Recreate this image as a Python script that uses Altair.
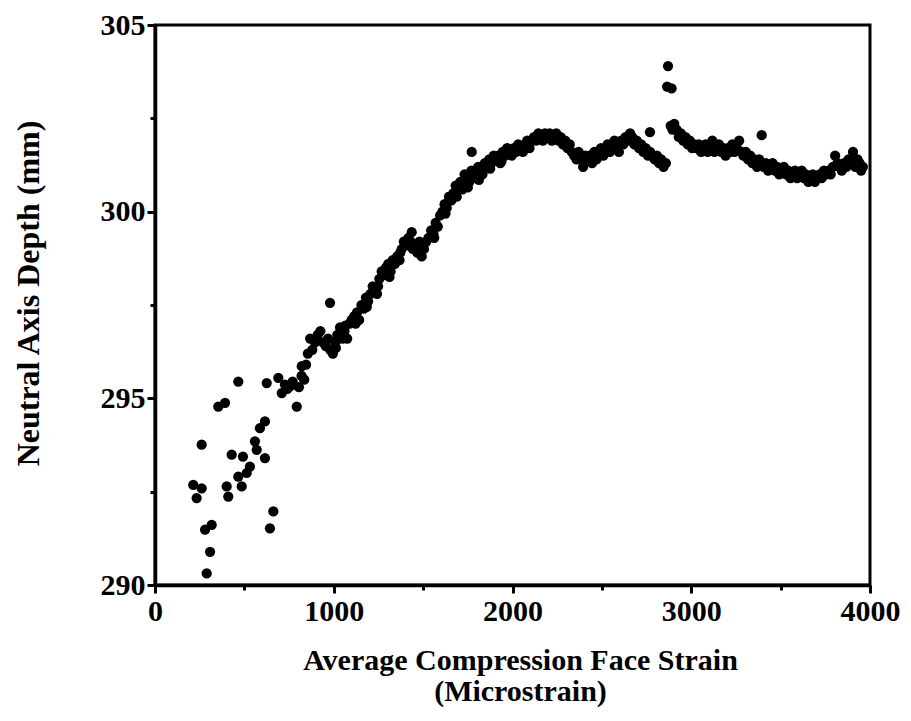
import altair as alt
import pandas as pd

# Sparse early readings
early_x = [214, 233, 261, 261, 280, 289, 308, 317, 354, 392, 401, 410, 429, 466, 466, 485, 492,
           513, 531, 559, 569, 587, 615, 615, 625, 643, 662, 690, 709, 727, 740, 755, 770, 793, 821]
early_y = [292.68, 292.33, 292.59, 293.76, 291.48, 290.31, 290.89, 291.61, 294.78, 294.88, 292.64,
           292.37, 293.49, 295.45, 292.90, 292.64, 293.44, 293.00, 293.17, 293.85, 293.62, 294.20,
           294.38, 293.40, 295.41, 291.52, 291.97, 295.55, 295.14, 295.37, 295.25, 295.32, 295.45,
           294.78, 295.86]

# Rising band
rise_x = [805, 820, 835, 845, 855, 868, 880, 895, 910, 925, 940, 955, 968, 980, 995, 1008, 1020,
          1035, 1048, 1060, 1075, 1088, 1100, 1115, 1130, 1142, 1155, 1168, 1180, 1192, 1205, 1218,
          1230, 1242, 1255, 1268, 1280, 1292, 1305, 1318, 1330, 1342, 1355, 1368, 1380, 1392, 1405,
          1418, 1430, 1442, 1455, 1468, 1480, 1492, 1505, 1518, 1530, 1545, 1558, 1570, 1582, 1595,
          1608, 1620, 1632, 1645, 1658, 1670, 1682, 1695, 1708, 1720, 1732, 1745, 1758, 1770, 1782,
          1795, 1808, 1820, 1832, 1845, 1858, 1870, 1882, 1895, 1908, 1920, 1932, 1945, 1958, 1970,
          1982, 1995]
rise_y = [295.3, 295.6, 295.5, 295.9, 296.2, 296.6, 296.3, 296.5, 296.7, 296.8, 296.5, 296.4, 296.6,
          296.3, 296.2, 296.5, 296.7, 296.9, 296.6, 296.8, 296.6, 297.0, 297.1, 297.2, 297.3, 297.1,
          297.5, 297.4, 297.7, 297.6, 297.8, 298.0, 297.9, 297.8, 298.2, 298.4, 298.3, 298.5, 298.6,
          298.4, 298.7, 298.6, 298.8, 298.7, 299.0, 299.2, 299.1, 299.3, 299.2, 299.0, 299.1, 298.9,
          299.2, 298.8, 299.0, 299.2, 299.3, 299.5, 299.4, 299.7, 299.6, 299.9, 300.0, 300.2, 300.1,
          300.4, 300.3, 300.5, 300.7, 300.6, 300.8, 300.6, 301.0, 300.9, 300.8, 301.1, 301.0, 300.9,
          301.2, 301.1, 301.0, 301.3, 301.2, 301.4, 301.3, 301.5, 301.4, 301.5, 301.3, 301.6, 301.5,
          301.7, 301.6, 301.5]

# Extra readings thickening the rising band
rise2_x = [1012, 1065, 1122, 1185, 1248, 1312, 1372, 1436, 1500, 1562, 1625, 1688, 1750, 1812,
           1875, 1938]
rise2_y = [296.35, 296.95, 297.0, 297.45, 298.0, 298.25, 298.9, 299.45, 299.05, 299.3, 299.95,
           300.4, 300.65, 300.85, 301.15, 301.35]

# First plateau
plateau_x = [2008, 2020, 2032, 2045, 2058, 2070, 2082, 2095, 2108, 2120, 2132, 2145, 2158, 2170,
             2182, 2195, 2208, 2220, 2232, 2245, 2258, 2270, 2282, 2295, 2308, 2320, 2332, 2345,
             2358, 2370, 2382, 2395, 2408, 2420, 2432, 2445, 2458, 2470, 2482, 2495, 2508, 2520,
             2532, 2545, 2558, 2570, 2582, 2595, 2608, 2620, 2632, 2645, 2658, 2670, 2682, 2695,
             2708, 2720, 2732, 2745, 2758, 2770, 2782, 2795, 2808, 2820, 2832, 2845, 2858]
plateau_y = [301.7, 301.6, 301.8, 301.7, 301.6, 301.8, 301.9, 301.7, 301.9, 302.0, 301.9, 302.1,
             302.0, 301.9, 302.1, 302.0, 302.1, 301.9, 302.0, 302.1, 301.9, 302.0, 301.8, 301.9,
             301.7, 301.8, 301.6, 301.5, 301.4, 301.6, 301.4, 301.2, 301.5, 301.4, 301.5, 301.3,
             301.6, 301.4, 301.5, 301.7, 301.5, 301.6, 301.8, 301.6, 301.7, 301.9, 301.8, 301.6,
             301.9, 301.8, 302.0, 301.9, 302.1, 302.0, 301.8, 301.9, 301.7, 301.8, 301.6, 301.7,
             301.5, 301.6, 301.5, 301.4, 301.5, 301.3, 301.4, 301.2, 301.3]

# After the jump
tail_x = [2885, 2895, 2905, 2918, 2930, 2942, 2955, 2968, 2980, 2992, 3005, 3018, 3030, 3042, 3055,
          3068, 3080, 3092, 3105, 3118, 3130, 3142, 3155, 3168, 3180, 3192, 3205, 3218, 3230, 3242,
          3255, 3268, 3280, 3292, 3305, 3318, 3330, 3342, 3355, 3368, 3380, 3392, 3405, 3418, 3430,
          3442, 3455, 3468, 3480, 3492, 3505, 3518, 3530, 3542, 3555, 3568, 3580, 3592, 3605, 3618,
          3630, 3642, 3655, 3668, 3680, 3692, 3705, 3718, 3730, 3742, 3755, 3768, 3780, 3792, 3805,
          3818, 3830, 3842, 3855, 3868, 3880, 3892, 3905, 3918, 3930, 3942, 3950, 3960]
tail_y = [302.3, 302.2, 302.35, 302.2, 302.0, 302.1, 301.9, 302.0, 301.8, 301.9, 301.7, 301.8,
          301.7, 301.8, 301.6, 301.7, 301.8, 301.6, 301.7, 301.9, 301.6, 301.7, 301.8, 301.6, 301.7,
          301.5, 301.7, 301.6, 301.8, 301.6, 301.7, 301.9, 301.6, 301.5, 301.6, 301.4, 301.5, 301.3,
          301.4, 301.2, 301.4, 301.3, 301.2, 301.3, 301.1, 301.2, 301.3, 301.1, 301.2, 301.0, 301.1,
          301.2, 301.0, 301.1, 300.9, 301.0, 301.1, 300.9, 301.0, 301.1, 300.9, 301.0, 300.8, 300.9,
          301.0, 300.8, 300.9, 301.0, 300.9, 301.1, 301.0, 301.1, 301.0, 301.2, 301.5, 301.3, 301.2,
          301.1, 301.3, 301.2, 301.4, 301.3, 301.6, 301.2, 301.4, 301.3, 301.1, 301.2]

# Isolated outliers
outlier_x = [979, 1772, 2769, 3394, 2870, 2865, 2890]
outlier_y = [297.56, 301.6, 302.13, 302.05, 303.9, 303.35, 303.3]

xs = early_x + rise_x + rise2_x + plateau_x + tail_x + outlier_x
ys = early_y + rise_y + rise2_y + plateau_y + tail_y + outlier_y
df = pd.DataFrame({"strain": xs, "depth": ys})

x_major = [0, 1000, 2000, 3000, 4000]
x_minor = [500, 1500, 2500, 3500]
y_major = [290, 295, 300, 305]
y_minor = [292.5, 297.5, 302.5]

FONT = "Liberation Serif"
xscale = alt.Scale(domain=[0, 4000], nice=False, zero=False)
yscale = alt.Scale(domain=[290, 305], nice=False, zero=False)

main = alt.Chart(df).mark_circle(size=105, color="black", opacity=1).encode(
    x=alt.X("strain:Q", scale=xscale, axis=alt.Axis(
        values=x_major, format="d", labelFlush=False, labelOverlap=False,
        title=["Average Compression Face Strain", "(Microstrain)"],
        titleX=365, titleY=60, titleBaseline="top", titleAlign="center",
        titleFontSize=30, titleLineHeight=31, tickSize=8, labelPadding=3)),
    y=alt.Y("depth:Q", scale=yscale, axis=alt.Axis(
        values=y_major, format="d", labelFlush=False, labelOverlap=False,
        title="Neutral Axis Depth (mm)", titleX=-127, titleY=268,
        titleBaseline="middle", titleAlign="center", titleAngle=270,
        titleFontSize=32, tickSize=8, labelPadding=2)),
)

minor = alt.Chart(df).mark_circle(opacity=0).encode(
    x=alt.X("strain:Q", scale=xscale, axis=alt.Axis(
        values=x_minor, labels=False, domain=False, title="", tickSize=5, orient="bottom")),
    y=alt.Y("depth:Q", scale=yscale, axis=alt.Axis(
        values=y_minor, labels=False, domain=False, title="", tickSize=5, orient="left")),
)

chart = alt.layer(main, minor).resolve_axis(x="independent", y="independent").properties(
    width=715, height=560,
    autosize=alt.AutoSizeParams(type="none"),
    padding={"left": 147, "top": 17, "right": 30, "bottom": 128},
).configure_view(
    stroke="black", strokeWidth=3
).configure_axis(
    grid=False, domainColor="black", domainWidth=3.5, tickColor="black", tickWidth=3,
    labelFont=FONT, labelFontSize=30, labelFontWeight="bold", labelColor="black",
    titleFont=FONT, titleFontSize=27, titleFontWeight="bold", titleColor="black",
)

chart.save("out.html", embed_options={"renderer": "svg", "actions": False})
